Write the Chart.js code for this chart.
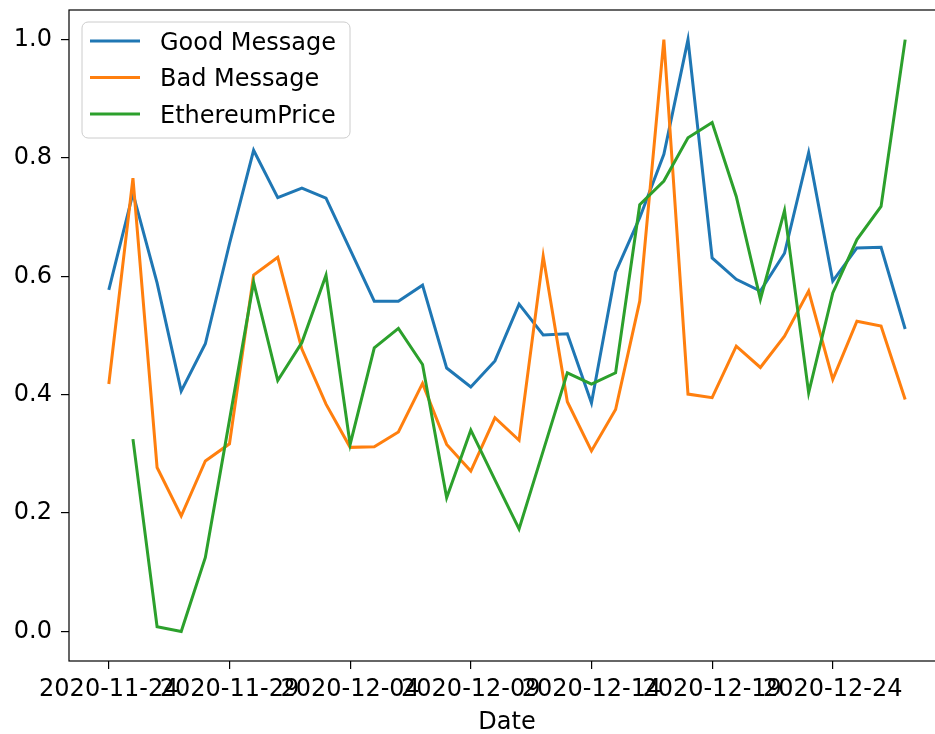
<!DOCTYPE html>
<html lang="en">
<head>
    <meta charset="UTF-8">
    <title>Good / Bad Message vs EthereumPrice</title>
    <script src="https://cdn.jsdelivr.net/npm/chart.js"></script>
    <style>
        body {
            margin: 0;
            padding: 0;
            overflow: hidden;
            background: #fff;
        }
        canvas {
            display: block;
        }
    </style>
</head>
<body>
    <!-- plot runs a bit past the right edge of the window, like the reference -->
    <canvas id="chart" width="946" height="734" style="width:946px;height:734px"></canvas>

    <script>
        // categories (one per day)
        const dates = [
            '2020-11-24', '2020-11-25', '2020-11-26', '2020-11-27', '2020-11-28', '2020-11-29',
            '2020-11-30', '2020-12-01', '2020-12-02', '2020-12-03', '2020-12-04', '2020-12-05',
            '2020-12-06', '2020-12-07', '2020-12-08', '2020-12-09', '2020-12-10', '2020-12-11',
            '2020-12-12', '2020-12-13', '2020-12-14', '2020-12-15', '2020-12-16', '2020-12-17',
            '2020-12-18', '2020-12-19', '2020-12-20', '2020-12-21', '2020-12-22', '2020-12-23',
            '2020-12-24', '2020-12-25', '2020-12-26', '2020-12-27'
        ];

        // series values (normalised 0..1)
        const goodMessage = [
            0.577, 0.740, 0.589, 0.406, 0.486, 0.655, 0.813, 0.733, 0.749, 0.732, 0.645, 0.558,
            0.558, 0.585, 0.445, 0.413, 0.457, 0.553, 0.501, 0.503, 0.386, 0.607, 0.699, 0.806,
            1.000, 0.631, 0.595, 0.575, 0.639, 0.809, 0.592, 0.648, 0.649, 0.511
        ];
        const badMessage = [
            0.418, 0.766, 0.277, 0.195, 0.288, 0.317, 0.602, 0.632, 0.477, 0.384, 0.311, 0.312,
            0.337, 0.419, 0.316, 0.271, 0.361, 0.323, 0.634, 0.388, 0.305, 0.375, 0.558, 1.000,
            0.401, 0.395, 0.482, 0.446, 0.499, 0.575, 0.426, 0.524, 0.516, 0.392
        ];
        const ethereumPrice = [
            null, 0.325, 0.008, 0.000, 0.125, 0.357, 0.590, 0.424, 0.488, 0.602, 0.316, 0.479,
            0.512, 0.451, 0.226, 0.340, 0.256, 0.173, 0.305, 0.437, 0.418, 0.437, 0.721, 0.761,
            0.834, 0.860, 0.735, 0.561, 0.711, 0.403, 0.572, 0.662, 0.718, 1.000
        ];

        // tick labels
        const xTickLabels = ['2020-11-24', '2020-11-29', '2020-12-04', '2020-12-09', '2020-12-14', '2020-12-19', '2020-12-24'];
        const yTickValues = [0.0, 0.2, 0.4, 0.6, 0.8, 1.0];
        const yTickLabels = ['0.0', '0.2', '0.4', '0.6', '0.8', '1.0'];

        const toPoints = values => values.map((v, i) => ({ x: i, y: v }));

        Chart.defaults.font.family = "'DejaVu Sans', sans-serif";
        Chart.defaults.font.size = 24;
        Chart.defaults.color = '#000';

        // matplotlib style box round the plot area
        const frame = {
            id: 'frame',
            afterDatasetsDraw(chart) {
                const { ctx, chartArea: a } = chart;
                ctx.save();
                ctx.strokeStyle = '#000';
                ctx.lineWidth = 1.2;
                ctx.strokeRect(a.left, a.top, a.right - a.left, a.bottom - a.top);
                ctx.restore();
            }
        };

        // legend in the upper left, drawn over the lines
        const boxLegend = {
            id: 'boxLegend',
            afterDraw(chart) {
                const ctx = chart.ctx;
                const x = 82, y = 22, w = 268, h = 116, r = 6;
                ctx.save();
                ctx.beginPath();
                ctx.roundRect(x, y, w, h, r);
                ctx.fillStyle = 'rgba(255,255,255,0.8)';
                ctx.fill();
                ctx.strokeStyle = '#cccccc';
                ctx.lineWidth = 1;
                ctx.stroke();

                ctx.font = "24px 'DejaVu Sans', sans-serif";
                ctx.textBaseline = 'alphabetic';
                ctx.textAlign = 'left';
                chart.data.datasets.forEach((ds, i) => {
                    const ly = 41 + i * 36.5;
                    ctx.beginPath();
                    ctx.moveTo(90, ly);
                    ctx.lineTo(140, ly);
                    ctx.strokeStyle = ds.borderColor;
                    ctx.lineWidth = 3;
                    ctx.stroke();
                    ctx.fillStyle = '#000';
                    ctx.fillText(ds.label, 160, ly + 8.8);
                });
                ctx.restore();
            }
        };

        const ctx = document.getElementById('chart').getContext('2d');
        new Chart(ctx, {
            type: 'line',
            data: {
                datasets: [
                    { label: 'Good Message', data: toPoints(goodMessage), borderColor: '#1f77b4', order: 3 },
                    { label: 'Bad Message', data: toPoints(badMessage), borderColor: '#ff7f0e', order: 2 },
                    { label: 'EthereumPrice', data: toPoints(ethereumPrice), borderColor: '#2ca02c', order: 1 }
                ]
            },
            options: {
                responsive: false,
                animation: false,
                devicePixelRatio: 1,
                layout: { padding: { top: 10, left: 0, right: 1, bottom: 0 } },
                elements: {
                    line: { borderWidth: 3, tension: 0, fill: false },
                    point: { radius: 0, hoverRadius: 0 }
                },
                plugins: {
                    legend: { display: false },
                    tooltip: { enabled: false }
                },
                scales: {
                    x: {
                        type: 'linear',
                        min: -1.65,
                        max: 34.65,
                        border: { display: false },
                        grid: { drawOnChartArea: false, drawTicks: true, tickLength: 8, color: '#000', lineWidth: 1.2 },
                        ticks: {
                            autoSkip: false,
                            maxRotation: 0,
                            minRotation: 0,
                            padding: 6,
                            color: '#000',
                            callback: value => dates[value]
                        },
                        afterBuildTicks: scale => {
                            scale.ticks = xTickLabels.map(l => ({ value: dates.indexOf(l) }));
                        },
                        afterFit: scale => {
                            scale.height = 73;
                            scale.paddingLeft = 0;
                            scale.paddingRight = 0;
                        },
                        title: {
                            display: true,
                            text: 'Date',
                            color: '#000',
                            font: { size: 24, lineHeight: 0.9 },
                            padding: { top: 0, bottom: 0 }
                        }
                    },
                    y: {
                        min: -0.05,
                        max: 1.05,
                        border: { display: false },
                        grid: { drawOnChartArea: false, drawTicks: true, tickLength: 8, color: '#000', lineWidth: 1.2 },
                        ticks: {
                            padding: 9,
                            color: '#000',
                            callback: value => {
                                const k = yTickValues.findIndex(t => Math.abs(t - value) < 1e-9);
                                return k >= 0 ? yTickLabels[k] : '';
                            }
                        },
                        afterBuildTicks: scale => {
                            scale.ticks = yTickValues.map(v => ({ value: v }));
                        },
                        afterFit: scale => {
                            scale.width = 69;
                            scale.paddingTop = 0;
                            scale.paddingBottom = 0;
                        }
                    }
                }
            },
            plugins: [frame, boxLegend]
        });
    </script>
</body>
</html>
